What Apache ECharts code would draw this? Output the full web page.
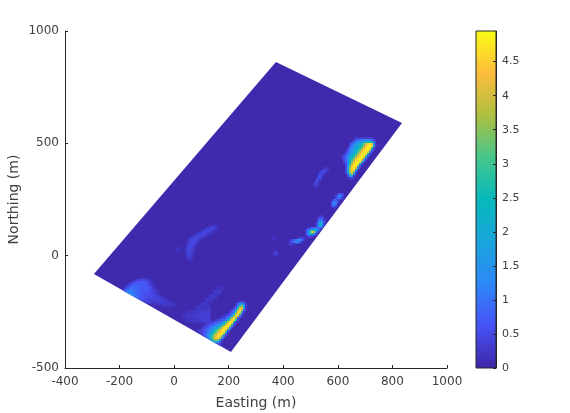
<!DOCTYPE html>
<html>
<head>
<meta charset="utf-8">
<title>Easting / Northing map</title>
<script src="https://cdn.jsdelivr.net/npm/echarts@6/dist/echarts.min.js"></script>
<style>
  html, body { margin: 0; padding: 0; background: #fff; }
  #chart { width: 570px; height: 413px; }
</style>
</head>
<body>
<div id="chart"></div>
<script>
// colour scale, low to high
const parula = ['#3e26a8', '#4752f4', '#2d87f7', '#1aa5dc', '#06b9bb', '#45c68c', '#aebf40', '#fdbd3d', '#f9fb15']
const colorMax = 4.95

// survey footprint, corners in metres
const siteEast = [-294, 373, 835, 208]
const siteNorth = [-82, 862, 590, -429]
const siteLevel = 0.05

// each row: first column index, then the values
const neRows = [
  [8, .3, .3, .3, .3, .3, .3, .3, .3, .3],
  [7, .3, .7, .9, 1, 1.2, 1.2, 1.3, 1.3, 1.1, .9, .4],
  [6, .3, .8, 1.1, 1.4, 1.6, 1.8, 2, 2.3, 2.6, 2.6, 2.1, .9],
  [5, .4, .9, 1.3, 1.6, 1.9, 2.1, 2.5, 3.2, 4, 4.5, 4.8, 4.2, 1.7, .3],
  [5, .6, 1.1, 1.4, 1.7, 2, 2.3, 2.8, 3.6, 4.3, 4.7, 4.9, 4.6, 1.6, .2],
  [4, .3, .9, 1.2, 1.6, 1.9, 2.2, 2.6, 3.4, 4.1, 4.6, 4.8, 4.8, 2.8, .4],
  [4, .6, 1, 1.4, 1.8, 2.1, 2.5, 3.2, 4, 4.5, 4.8, 4.9, 3.8, .8],
  [3, .3, .8, 1.2, 1.6, 1.9, 2.3, 2.9, 3.8, 4.4, 4.7, 4.8, 4.4, 1.4],
  [2, .2, .6, 1, 1.4, 1.8, 2.2, 2.7, 3.6, 4.3, 4.7, 4.8, 4.6, 2.2, .3],
  [1, .2, .5, .8, 1.2, 1.7, 2.2, 2.6, 3.4, 4.1, 4.6, 4.8, 4.7, 3, .5],
  [1, .2, .6, .9, 1.4, 2, 2.5, 3.2, 4, 4.6, 4.8, 4.8, 3.6, .8],
  [1, .1, .5, .8, 1.4, 2.2, 2.9, 3.8, 4.4, 4.8, 4.9, 4.2, 1.2],
  [2, .4, .7, 1.3, 2.4, 3.3, 4.2, 4.7, 4.8, 4.5, 1.8],
  [3, .6, 1.3, 2.7, 3.9, 4.6, 4.8, 4.7, 2.4, .3],
  [3, .5, 1.5, 3.2, 4.3, 4.8, 4.8, 3.2, .5],
  [3, .5, 1.7, 3.6, 4.6, 4.8, 4, .9],
  [3, .5, 1.8, 3.8, 4.6, 4.4, 1.6],
  [3, .5, 1.8, 3.6, 4.4, 3.2, .4],
  [4, 1.1, 2.8, 3.6, 1.4],
  [4, .5, 1.5, 1.5, .3],
  [5, .4, .4]
]

const swRows = [
  [21, .2, .5, .7, .4],
  [20, .3, .8, 1.6, 1.8, 1, .2],
  [20, .5, 1.4, 3, 3.4, 2, .3],
  [19, .4, .9, 2.2, 4, 4.2, 1.8, .2],
  [18, .4, .8, 1.7, 3.6, 4.6, 3.8, .9],
  [17, .3, .6, 1.2, 3, 4.4, 4.6, 1.8, .2],
  [15, .2, .3, .6, 1, 2.2, 4, 4.7, 3.2, .6],
  [13, .2, .3, .4, .6, .9, 1.7, 3.4, 4.5, 3.8, .8],
  [12, .3, .4, .5, .7, 1.2, 2.2, 3.8, 4.6, 3.6, .6],
  [10, .3, .4, .5, .7, .9, 1.2, 2, 3.4, 4.5, 4.7, 2.6, .4],
  [7, .3, .4, .5, .6, .7, .9, 1.1, 1.5, 2.6, 3.9, 4.6, 4.8, 2.4, .3],
  [5, .3, .4, .5, .6, .8, 1, 1.2, 1.4, 1.8, 2.6, 3.7, 4.5, 4.8, 3.4, .6],
  [4, .3, .4, .5, .7, .9, 1.1, 1.3, 1.6, 2.1, 2.9, 3.9, 4.5, 4.8, 3.8, .9],
  [3, .3, .4, .6, .8, 1, 1.2, 1.5, 1.9, 2.4, 3.2, 4, 4.6, 4.8, 4, 1.2],
  [1, .2, .3, .4, .6, .8, .9, 1.2, 1.6, 2.1, 2.7, 3.4, 4.1, 4.6, 4.8, 4, 1.4],
  [1, .2, .3, .4, .6, .8, 1, 1.4, 1.9, 2.5, 3.2, 3.9, 4.4, 4.7, 4.7, 2.6, .3],
  [3, .4, .6, .8, 1.2, 1.7, 2.4, 3.2, 3.9, 4.4, 4.7, 4.7, 3.2, .6],
  [4, .6, .9, 1.3, 1.9, 2.7, 3.6, 4.2, 4.6, 4.6, 3.4, .8],
  [6, 1.1, 2, 3, 3.8, 4.4, 4.5, 3.7, 1.2],
  [8, 2.4, 3.2, 3.6, 3.2, 1.6, .3],
  [8, 1.1, 1.7, 1.9, 1.4, .8, .2],
  [10, .7, .6, .4]
]

const midRows = [
  [27, .2, .3, .2],
  [26, .3, .5, .5, .2],
  [25, .3, .5, .5, .2],
  [25, .5, .5, .2],
  [24, .4, .6, .3],
  [24, .5, .5],
  [23, .4, .5, .2],
  [23, .5, .4],
  [22, .4, .5, .2],
  [22, .2, .3],
  [0],
  [0],
  [0],
  [34, .4, .7, .6],
  [33, .4, 1, 1.2, .7],
  [33, .5, .9, .9, .3],
  [31, .3, .6, .7, .4],
  [31, .6, 1.2, 1.1, .4],
  [31, .8, 1.4, 1, .2],
  [31, .5, .8, .4],
  [32, .2],
  [0],
  [0],
  [0],
  [25, .2, .3],
  [24, .3, .6, .6],
  [24, .5, 1, .9, .3],
  [24, .7, 1.8, 1.5, .5],
  [23, .3, 1, 2.5, 1.9, .4],
  [23, .3, 1, 2.2, 1.2],
  [19, .3, .5, .7, .9, .9, 1, .8],
  [18, .3, 1, 1.5, 2, 2.4, 2.2, 1],
  [18, .4, 1.2, 2.5, 4.4, 3.8, 1.5],
  [18, .4, 1.2, 2.4, 2.2, 1.2, .4],
  [19, .5, .6, .4],
  [1, .2, .3, 0, 0, 0, 0, 0, 0, 0, 0, 0, 0, 0, .2, .4, .6, .3],
  [10, .2, .4, .7, 1, 1.3, 1.3, .8, .2],
  [10, .4, .7, 1, 1.3, 1.1, .6],
  [9, .2, .3, .3, .2],
  [0],
  [0],
  [0],
  [2, .3, .4],
  [2, .3, .4]
]

const westRows = [
  [7, .1, .15, .15, .15, .15, .1],
  [5, .15, .3, .4, .45, .45, .45, .4, .3, .2, .1],
  [4, .25, .45, .6, .65, .65, .65, .65, .6, .45, .3, .15],
  [2, .2, .4, .6, .7, .75, .75, .75, .7, .7, .65, .5, .35, .2],
  [1, .2, .4, .6, .75, .8, .8, .8, .75, .7, .7, .7, .6, .5, .35, .2],
  [0, .2, .4, .65, .85, .9, .9, .85, .8, .75, .7, .7, .7, .65, .55, .4, .25, .15],
  [0, .5, .8, 1, 1.1, 1, .95, .85, .8, .75, .7, .7, .65, .65, .55, .45, .3, .2, .1],
  [0, .9, 1.1, 1.2, 1.2, 1.1, 1, .9, .8, .75, .7, .65, .6, .6, .55, .45, .35, .25, .15],
  [0, 1.2, 1.3, 1.3, 1.3, 1.2, 1, .9, .8, .7, .65, .6, .55, .55, .5, .45, .4, .3, .2, .1],
  [3, 1.3, 1.3, 1.2, 1, .85, .75, .65, .6, .55, .5, .5, .5, .45, .45, .35, .25, .15],
  [6, 1, .85, .7, .6, .55, .5, .45, .45, .45, .45, .4, .4, .35, .3, .2, .1],
  [8, .7, .6, .5, .45, .4, .4, .4, .4, .4, .4, .35, .35, .3, .25, .2, .1],
  [11, .4, .35, .35, .3, .3, .35, .35, .35, .35, .3, .3, .25, .2, .15],
  [15, .2, .2, .2, .2, .25, .3, .3, .3, .25, .25, .2, .15],
  [20, .2, .2, .2, .2, .2, .15]
]

const basinRows = [
  [20, .15, .25, .3, .25],
  [18, .15, .2, .25, .3, .35, .3],
  [17, .2, .25, .25, .3, .35, .35, .35],
  [18, .2, .2, .25, .3, .35, .35]
]

const streakRows = [
  [4, .15, .2],
  [3, .25, .25],
  [2, .25, .25],
  [1, .25, .25],
  [0, .25, .2],
  [0, .2]
]

const centreRows = [
  [17, .15, .25, .3, .25, .1],
  [15, .2, .3, .4, .45, .45, .3, .1],
  [13, .15, .3, .4, .45, .45, .4, .3, .15],
  [11, .1, .25, .35, .45, .45, .45, .35, .2, .1],
  [9, .1, .25, .35, .4, .45, .45, .4, .3, .15],
  [8, .15, .3, .4, .45, .45, .45, .35, .25, .1],
  [7, .2, .35, .45, .45, .45, .4, .3, .15],
  [6, .2, .35, .45, .45, .45, .35, .2, .1],
  [6, .3, .4, .45, .45, .4, .25, .1],
  [5, .15, .35, .45, .45, .4, .25, .1],
  [5, .2, .4, .45, .45, .3, .15],
  [0, .2, .25, .15, 0, 0, .25, .4, .45, .4, .25],
  [0, .2, .25, .1, 0, 0, .25, .4, .45, .35, .2],
  [5, .25, .4, .4, .35, .15],
  [5, .25, .4, .4, .3, .1],
  [5, .2, .35, .4, .25],
  [5, .15, .3, .3, .2],
  [6, .15, .2, .1]
]

// where each table sits on the map: [east of first column, north of first row, east step, north step]
const patches = [
  { rows: westRows, at: [-183.8, -99.4, 7.33, 8.9] },
  { rows: basinRows, at: [-213.1, -232.9, 14.66, 17.8] },
  { rows: streakRows, at: [105.3, -143.9, 14.66, 17.8] },
  { rows: centreRows, at: [6.8, 132, 7.33, 8.9] },
  { rows: midRows, at: [351.3, 390.2, 7.33, 8.9] },
  { rows: neRows, at: [607.8, 523.7, 7.33, 8.9] },
  { rows: swRows, at: [80.1, -206.2, 7.33, 8.9] }
]

const eastTicks = { min: -400, max: 1000, interval: 200 }
const northTicks = { min: -500, max: 1000, interval: 500 }
const textColor = '#404040'
const fontFamily = '"DejaVu Sans", sans-serif'

function colorAt(v) {
  return echarts.color.lerp(Math.min(v / colorMax, 1), parula)
}

const cells = []
patches.forEach(p => {
  const [e0, n0, de, dn] = p.at
  p.rows.forEach((row, j) => {
    for (let i = 1; i < row.length; i++) {
      if (row[i] > 0) cells.push([e0 + (row[0] + i - 1) * de, n0 - j * dn, row[i], de, dn])
    }
  })
})

const chart = echarts.init(document.getElementById('chart'), null, { renderer: 'canvas' })

const option = {
  animation: false,
  backgroundColor: '#fff',
  grid: [
    { left: 65, top: 31, width: 382, height: 337, outerBoundsMode: 'none' },
    { left: 476, top: 31, width: 20, height: 337, outerBoundsMode: 'none', show: true, borderColor: '#262626', borderWidth: 1, backgroundColor: 'transparent' }
  ],
  xAxis: [
    {
      gridIndex: 0, type: 'value', ...eastTicks,
      name: 'Easting (m)', nameLocation: 'middle', nameGap: 28, nameMoveOverlap: false,
      nameTextStyle: { color: textColor, fontSize: 14, fontFamily },
      axisLine: { onZero: false, lineStyle: { color: '#262626', width: 1 } },
      axisTick: { inside: true, length: 3, lineStyle: { color: '#262626' } },
      axisLabel: { color: textColor, fontSize: 12, fontFamily, margin: 8, hideOverlap: false, formatter: v => String(v) },
      splitLine: { show: false }
    },
    { gridIndex: 1, type: 'value', min: 0, max: 1, show: false }
  ],
  yAxis: [
    {
      gridIndex: 0, type: 'value', ...northTicks,
      name: 'Northing (m)', nameLocation: 'middle', nameGap: 44, nameMoveOverlap: false,
      nameTextStyle: { color: textColor, fontSize: 14, fontFamily },
      axisLine: { onZero: false, lineStyle: { color: '#262626', width: 1 } },
      axisTick: { inside: true, length: 3, lineStyle: { color: '#262626' } },
      axisLabel: { color: textColor, fontSize: 12, fontFamily, margin: 6, formatter: v => String(v) },
      splitLine: { show: false }
    },
    {
      gridIndex: 1, type: 'value', position: 'right', min: 0, max: colorMax, interval: 0.5, z: 10,
      axisLine: { show: true, onZero: false, lineStyle: { color: '#262626', width: 1 } },
      axisTick: { show: true, inside: true, length: 3, lineStyle: { color: '#262626' } },
      axisLabel: { color: textColor, fontSize: 11, fontFamily, margin: 6, showMaxLabel: false },
      splitLine: { show: false }
    }
  ],
  series: [
    {
      // footprint
      type: 'custom', xAxisIndex: 0, yAxisIndex: 0, clip: true, silent: true,
      encode: { x: 0, y: 1 },
      data: siteEast.map((e, i) => [e, siteNorth[i]]),
      renderItem(params, api) {
        if (params.dataIndex !== 0) return null
        return {
          type: 'polygon',
          shape: { points: siteEast.map((e, i) => api.coord([e, siteNorth[i]])) },
          style: { fill: colorAt(siteLevel) }
        }
      }
    },
    {
      // map values, kept inside the footprint
      type: 'custom', xAxisIndex: 0, yAxisIndex: 0, clip: true, silent: true,
      encode: { x: 0, y: 1 },
      data: cells,
      renderItem(params, api) {
        const p = api.coord([api.value(0), api.value(1)])
        const s = api.size([api.value(3), api.value(4)])
        return {
          type: 'rect',
          shape: { x: p[0] - s[0] / 2, y: p[1] - s[1] / 2, width: s[0] + 0.5, height: s[1] + 0.5 },
          style: { fill: colorAt(api.value(2)) },
          clipPath: {
            type: 'polygon',
            shape: { points: siteEast.map((e, i) => api.coord([e, siteNorth[i]])) }
          }
        }
      }
    },
    {
      // colour bar
      type: 'custom', xAxisIndex: 1, yAxisIndex: 1, silent: true, z: -1,
      encode: { x: 0, y: 1 },
      data: [[0, 0], [1, colorMax]],
      renderItem(params, api) {
        if (params.dataIndex !== 0) return null
        const a = api.coord([0, colorMax])
        const b = api.coord([1, 0])
        return {
          type: 'rect',
          shape: { x: a[0], y: a[1], width: b[0] - a[0], height: b[1] - a[1] },
          style: {
            fill: new echarts.graphic.LinearGradient(0, 1, 0, 0,
              parula.map((c, i) => ({ offset: i / (parula.length - 1), color: c })))
          }
        }
      }
    }
  ]
}

chart.setOption(option)
window.addEventListener('resize', () => chart.resize())
</script>
</body>
</html>
